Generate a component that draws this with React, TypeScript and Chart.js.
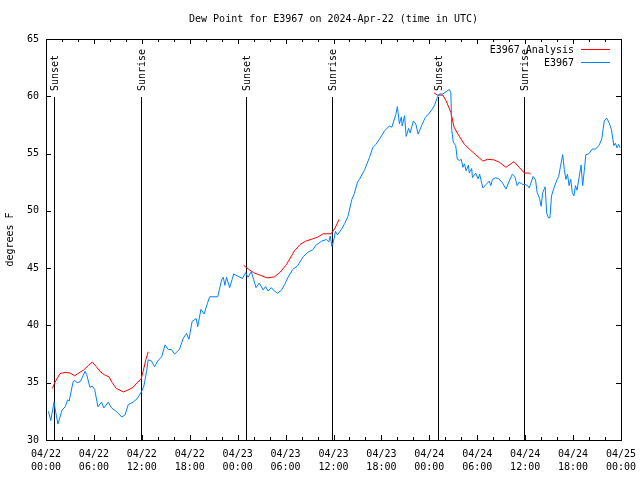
import { useEffect, useRef } from 'react';
import { Chart, registerables } from 'chart.js';

Chart.register(...registerables);

const FONT = '"DejaVu Sans Mono", monospace';
const titleText = 'Dew Point for E3967 on 2024-Apr-22 (time in UTC)';
const yAxisTitle = 'degrees F';
const obsLabel = 'E3967';
const anaLabel = 'E3967 Analysis';

// x axis: hours since 2024-04-22 00:00 UTC
const xTickLabels = [
  ['04/22', '00:00'], ['04/22', '06:00'], ['04/22', '12:00'], ['04/22', '18:00'],
  ['04/23', '00:00'], ['04/23', '06:00'], ['04/23', '12:00'], ['04/23', '18:00'],
  ['04/24', '00:00'], ['04/24', '06:00'], ['04/24', '12:00'], ['04/24', '18:00'],
  ['04/25', '00:00'],
];

const sunHours = [1.04, 11.92, 25.0, 35.8, 49.04, 59.8];
const sunLabels = ['Sunset', 'Sunrise', 'Sunset', 'Sunrise', 'Sunset', 'Sunrise'];

const obsHours = [
  0.3, 0.6, 1.0, 1.2, 1.5, 2.0, 2.4, 2.7, 2.9, 3.4, 3.6, 3.9, 4.3, 4.9, 5.1, 5.5, 5.8, 6.1, 6.5, 6.95,
  7.25, 7.8, 8.2, 8.8, 9.5, 9.9, 10.3, 10.9, 11.4, 11.95, 12.25, 12.6, 12.8, 13.2, 13.6, 14.0, 14.5, 14.9, 15.3, 15.7,
  16.1, 16.7, 17.2, 17.6, 17.9, 18.3, 18.8, 19.0, 19.4, 19.8, 20.2, 20.5, 21.5, 22.0, 22.2, 22.4, 22.6, 23.0, 23.3, 23.5,
  24.0, 24.6, 25.0, 25.3, 25.7, 26.0, 26.3, 26.7, 27.2, 27.5, 27.8, 28.2, 28.6, 29.0, 29.5, 29.9, 30.3, 30.9, 31.5, 32.2,
  32.8, 33.4, 33.8, 34.5, 35.1, 35.4, 35.6, 35.8, 36.0, 36.25, 36.5, 37.0, 37.4, 37.8, 38.3, 38.6, 39.0, 39.25, 39.9, 40.5,
  40.9, 41.3, 41.75, 42.4, 43.0, 43.3, 43.8, 44.0, 44.25, 44.5, 44.6, 44.9, 45.1, 45.4, 45.6, 46.0, 46.3, 46.6, 47.0, 47.5,
  47.9, 48.4, 48.7, 49.0, 49.25, 49.7, 50.1, 50.5, 50.7, 50.8, 51.0, 51.3, 51.5, 51.8, 52.0, 52.2, 52.4, 52.6, 52.9, 53.0,
  53.3, 53.4, 53.8, 54.1, 54.3, 54.7, 55.1, 55.5, 55.7, 55.9, 56.3, 56.7, 57.1, 57.6, 58.0, 58.4, 58.7, 59.0, 59.25, 59.7,
  60.0, 60.3, 60.5, 60.7, 61.0, 61.3, 61.5, 61.8, 62.0, 62.2, 62.5, 62.7, 62.9, 63.1, 63.3, 63.6, 64.0, 64.2, 64.4, 64.7,
  64.9, 65.1, 65.3, 65.5, 65.7, 65.9, 66.1, 66.3, 66.5, 66.75, 67.0, 67.2, 67.4, 67.6, 68.0, 68.4, 68.8, 69.25, 69.6, 69.9,
  70.2, 70.5, 70.8, 71.1, 71.3, 71.5, 71.7, 71.9,
];
const obsValues = [
  32.5, 31.7, 33.3, 32.5, 31.4, 32.6, 32.9, 33.5, 33.4, 35.1, 35.2, 35.0, 35.1, 36.0, 35.7, 34.6, 34.7, 34.4, 32.9, 33.3,
  32.8, 33.3, 32.8, 32.5, 32.0, 32.2, 33.1, 33.3, 33.6, 34.2, 34.7, 36.0, 37.0, 36.9, 36.4, 36.9, 37.3, 38.3, 37.9, 37.9,
  37.5, 37.9, 38.9, 39.3, 38.8, 40.35, 40.6, 39.9, 41.4, 41.0, 41.9, 42.5, 42.5, 44.0, 44.2, 43.5, 44.2, 43.3, 44.0, 44.5,
  44.3, 44.1, 44.6, 44.2, 44.7, 44.0, 43.3, 43.7, 43.1, 43.4, 43.0, 43.3, 43.0, 42.8, 43.1, 43.6, 44.2, 44.9, 45.2, 46.0,
  46.4, 46.6, 47.0, 47.35, 47.5, 47.3, 47.8, 46.9, 47.35, 48.2, 47.9, 48.4, 48.9, 49.5, 51.0, 51.5, 52.5, 52.75, 53.6, 54.65,
  55.5, 55.8, 56.25, 57.0, 57.4, 57.3, 58.4, 59.1, 57.6, 58.2, 57.4, 58.3, 56.5, 57.2, 56.8, 57.85, 57.6, 56.7, 57.4, 58.15,
  58.45, 58.9, 59.3, 59.9, 60.2, 60.2, 60.4, 60.6, 60.3, 57.1, 56.0, 55.7, 54.5, 54.4, 54.5, 53.8, 54.1, 53.5, 54.0, 53.3,
  53.7, 52.9, 53.3, 52.8, 53.2, 52.0, 52.3, 52.6, 52.2, 52.75, 52.9, 52.8, 52.5, 51.9, 52.6, 53.2, 53.0, 52.2, 52.5, 52.3,
  52.3, 52.2, 52.0, 52.4, 53.0, 52.7, 51.6, 51.1, 50.4, 51.6, 52.1, 49.8, 49.4, 49.4, 51.3, 52.0, 52.75, 53.0, 53.8, 54.9,
  53.6, 52.75, 53.2, 52.2, 52.75, 51.6, 51.3, 52.2, 51.8, 52.9, 54.0, 52.2, 53.5, 54.9, 55.0, 55.4, 55.4, 55.7, 56.3, 57.85,
  58.1, 57.7, 57.1, 55.7, 55.9, 55.5, 55.8, 55.5,
];

// analysis: null marks a gap between nightly runs
const anaHours = [
  0.8, 1.1, 1.75, 2.4, 3.0, 3.6, 4.0, 4.7, 5.3, 5.8, 6.3, 6.75, 7.3, 7.9, 8.3, 8.8, 9.7, 10.4, 10.9, 11.4, 11.9, 12.2, 12.5, 12.8,
  18.0,
  24.75, 25.3, 26.0, 26.75, 27.7, 28.6, 29.25, 30.1, 31.1, 31.8, 32.5, 33.4, 34.0, 34.7, 35.7, 36.2, 36.7,
  42.0,
  48.6, 49.0, 49.7, 50.1, 50.7, 51.1, 51.75, 52.4, 53.0, 53.8, 54.7, 55.3, 56.1, 56.75, 57.6, 58.6, 59.25, 59.9, 60.5, 60.7,
];
const anaValues = [
  34.5, 35.0, 35.8, 35.9, 35.85, 35.6, 35.8, 36.1, 36.5, 36.8, 36.4, 36.0, 35.7, 35.5, 35.0, 34.5, 34.2, 34.4, 34.6, 35.0, 35.3, 36.1, 37.0, 37.7,
  null,
  45.25, 44.94, 44.6, 44.4, 44.15, 44.24, 44.6, 45.3, 46.5, 47.06, 47.35, 47.56, 47.7, 48.0, 48.0, 48.5, 49.25,
  null,
  60.3, 60.1, 60.1, 59.6, 58.6, 57.3, 56.5, 55.8, 55.4, 54.9, 54.35, 54.5, 54.45, 54.25, 53.8, 54.3, 53.8, 53.3, 53.3, 53.2,
];

const RED = '#ff0000';
const BLUE = '#0080ff';

const decor = {
  id: 'decor',
  beforeDatasetsDraw(chart: any) {
    const { ctx, chartArea: a, scales } = chart;
    const x = scales.x;
    const y = scales.y;
    ctx.save();
    ctx.strokeStyle = '#000';
    ctx.lineWidth = 1;
    ctx.fillStyle = '#000';
    ctx.font = `10px ${FONT}`;
    const yTop = Math.round(y.getPixelForValue(59.9));
    sunHours.forEach((h, i) => {
      const px = Math.round(x.getPixelForValue(h)) + 0.5;
      ctx.beginPath();
      ctx.moveTo(px, yTop);
      ctx.lineTo(px, a.bottom);
      ctx.stroke();
      ctx.save();
      ctx.translate(px + 1, yTop - 6);
      ctx.rotate(-Math.PI / 2);
      ctx.textAlign = 'left';
      ctx.textBaseline = 'middle';
      ctx.fillText(sunLabels[i], 0, 0);
      ctx.restore();
    });
    ctx.restore();
  },
  afterDatasetsDraw(chart: any) {
    const { ctx, chartArea: a, scales } = chart;
    const x = scales.x;
    const y = scales.y;
    ctx.save();
    ctx.strokeStyle = '#000';
    ctx.lineWidth = 1;
    // frame
    ctx.strokeRect(a.left + 0.5, a.top + 0.5, a.right - a.left, a.bottom - a.top);
    // x ticks (inward, mirrored)
    ctx.beginPath();
    for (let h = 0; h <= 72; h += 2) {
      const len = h % 6 === 0 ? 5 : 3;
      const px = Math.round(x.getPixelForValue(h)) + 0.5;
      ctx.moveTo(px, a.bottom);
      ctx.lineTo(px, a.bottom - len);
      ctx.moveTo(px, a.top);
      ctx.lineTo(px, a.top + len);
    }
    for (let v = 30; v <= 65; v += 5) {
      const py = Math.round(y.getPixelForValue(v)) + 0.5;
      ctx.moveTo(a.left, py);
      ctx.lineTo(a.left + 5, py);
      ctx.moveTo(a.right, py);
      ctx.lineTo(a.right - 5, py);
    }
    ctx.stroke();

    // title
    ctx.fillStyle = '#000';
    ctx.font = `10px ${FONT}`;
    ctx.textAlign = 'center';
    ctx.textBaseline = 'middle';
    ctx.fillText(titleText, (a.left + a.right) / 2, 19);

    // legend
    ctx.textAlign = 'right';
    const items = [
      { label: anaLabel, color: RED },
      { label: obsLabel, color: BLUE },
    ];
    items.forEach((it, i) => {
      const ly = a.top + 10.5 + i * 13;
      ctx.fillStyle = '#000';
      ctx.fillText(it.label, a.right - 47, ly + 0.5);
      ctx.strokeStyle = it.color;
      ctx.beginPath();
      ctx.moveTo(a.right - 40, ly);
      ctx.lineTo(a.right - 11, ly);
      ctx.stroke();
    });
    ctx.restore();
  },
};

export default function App() {
  const ref = useRef<HTMLCanvasElement>(null);

  useEffect(() => {
    if (!ref.current) return;
    const chart = new Chart(ref.current, {
      type: 'line',
      data: {
        datasets: [
          {
            label: obsLabel,
            data: obsHours.map((h, i) => ({ x: h, y: obsValues[i] })),
            borderColor: BLUE,
            borderWidth: 1,
            pointRadius: 0,
            tension: 0,
            fill: false,
          },
          {
            label: anaLabel,
            data: anaHours.map((h, i) => ({ x: h, y: anaValues[i] })),
            borderColor: RED,
            borderWidth: 1,
            pointRadius: 0,
            tension: 0,
            fill: false,
            spanGaps: false,
          },
        ],
      },
      options: {
        responsive: false,
        devicePixelRatio: 1,
        animation: false,
        layout: { padding: { top: 39, right: 19, left: 0, bottom: 0 } },
        plugins: {
          legend: { display: false },
          title: { display: false },
          tooltip: { enabled: false },
        },
        scales: {
          x: {
            type: 'linear',
            min: 0,
            max: 72,
            grid: { display: false, drawTicks: false },
            border: { display: false },
            afterFit: (s: any) => { s.height = 40; s.paddingLeft = 0; s.paddingRight = 0; },
            ticks: {
              stepSize: 6,
              autoSkip: false,
              maxRotation: 0,
              padding: 8,
              color: '#000',
              font: { family: FONT, size: 10, lineHeight: 1.3 },
              callback: (v: any) => xTickLabels[Math.round(Number(v) / 6)],
            },
          },
          y: {
            type: 'linear',
            min: 30,
            max: 65,
            grid: { display: false, drawTicks: false },
            border: { display: false },
            afterFit: (s: any) => { s.width = 46; s.paddingTop = 0; s.paddingBottom = 0; },
            title: {
              display: true,
              text: yAxisTitle,
              color: '#000',
              font: { family: FONT, size: 10 },
              padding: { top: 4, bottom: 4 },
            },
            ticks: {
              stepSize: 5,
              padding: 7,
              color: '#000',
              font: { family: FONT, size: 10 },
              callback: (v: any) => String(v),
            },
          },
        },
      },
      plugins: [decor],
    });
    return () => chart.destroy();
  }, []);

  return (
    <div style={{ position: 'fixed', left: 0, top: 0, width: 640, height: 480, background: '#fff' }}>
      <canvas ref={ref} width={640} height={480} style={{ display: 'block' }} />
    </div>
  );
}
